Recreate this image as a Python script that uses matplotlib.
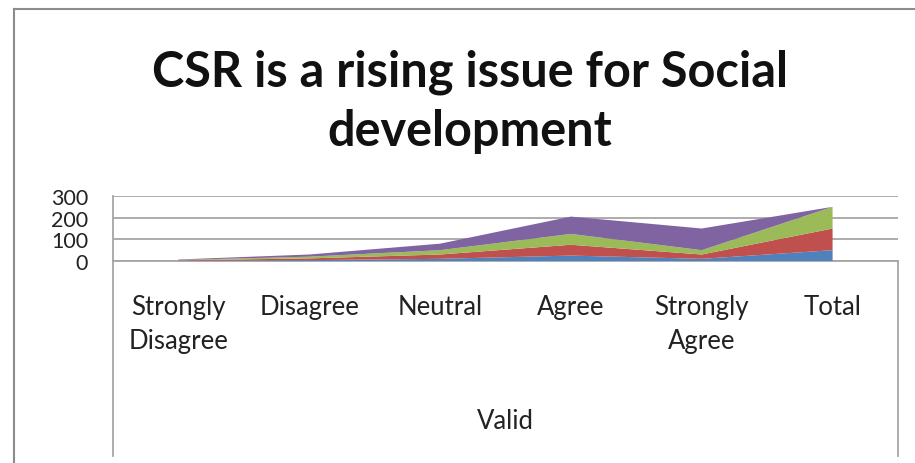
import matplotlib
matplotlib.use("Agg")
import matplotlib.pyplot as plt
from matplotlib.lines import Line2D
import numpy as np

categories = ["Strongly\nDisagree", "Disagree", "Neutral", "Agree", "Strongly\nAgree", "Total"]
frequency = [1, 4, 10, 25, 10, 50]
percent = [2, 8, 20, 50, 20, 100]
valid_percent = [2, 8, 20, 50, 20, 100]
cumulative_percent = [2, 10, 30, 80, 100, 0]
y_ticks = [0, 100, 200, 300]

series_colors = ["#4F81BD", "#C0504D", "#9BBB59", "#8064A2"]

plt.rcParams["font.family"] = ["Lato", "DejaVu Sans"]

W, H = 915, 464
fig = plt.figure(figsize=(W / 100, H / 100), dpi=100)

def fx(px):
    return px / W

def fy(py):
    return 1 - py / H

left, right, top, bottom = 113, 898, 197, 262
ax = fig.add_axes([fx(left), fy(bottom), fx(right) - fx(left), fy(top) - fy(bottom)])

x = np.arange(len(categories))
ax.stackplot(x, frequency, percent, valid_percent, cumulative_percent,
             colors=series_colors, linewidth=0, zorder=3)

ax.set_xlim(-0.5, len(categories) - 0.5)
ax.set_ylim(0, 300)
ax.set_yticks(y_ticks)
ax.set_yticklabels([str(v) for v in y_ticks], fontsize=15.5, color="#222222")
ax.tick_params(axis="y", length=0, pad=18)
ax.yaxis.grid(True, color="#a6a6a6", linewidth=1.3, zorder=1)
ax.set_axisbelow(True)

ax.set_xticks(x)
ax.set_xticklabels(categories, fontsize=18.5, color="#222222", linespacing=1.45, va="top")
ax.tick_params(axis="x", length=0, pad=24)

for side in ("top", "right"):
    ax.spines[side].set_visible(False)
ax.spines["left"].set_color("#a6a6a6")
ax.spines["left"].set_linewidth(1.3)
ax.spines["bottom"].set_color("#a6a6a6")
ax.spines["bottom"].set_linewidth(1.3)

# category-axis box beneath the plot area
box_color = "#a6a6a6"
fig.add_artist(Line2D([fx(left), fx(left)], [fy(bottom), fy(457)], color=box_color, lw=1.3))
fig.add_artist(Line2D([fx(right), fx(right)], [fy(bottom), fy(457)], color=box_color, lw=1.3))

# outer chart frame
frame_color = "#8c8c8c"
fig.add_artist(Line2D([fx(14), fx(14)], [fy(10), fy(464)], color=frame_color, lw=1.5))
fig.add_artist(Line2D([fx(14), fx(915)], [fy(10), fy(10)], color=frame_color, lw=1.5))

fig.text(fx(470), fy(72), "CSR is a rising issue for Social", ha="center", va="center",
         fontsize=35, fontweight="bold", color="#111111")
fig.text(fx(470), fy(131), "development", ha="center", va="center",
         fontsize=35, fontweight="bold", color="#111111")

fig.text(fx(505), fy(422), "Valid", ha="center", va="center", fontsize=18.5, color="#222222")

fig.savefig("out.png", dpi=100)
